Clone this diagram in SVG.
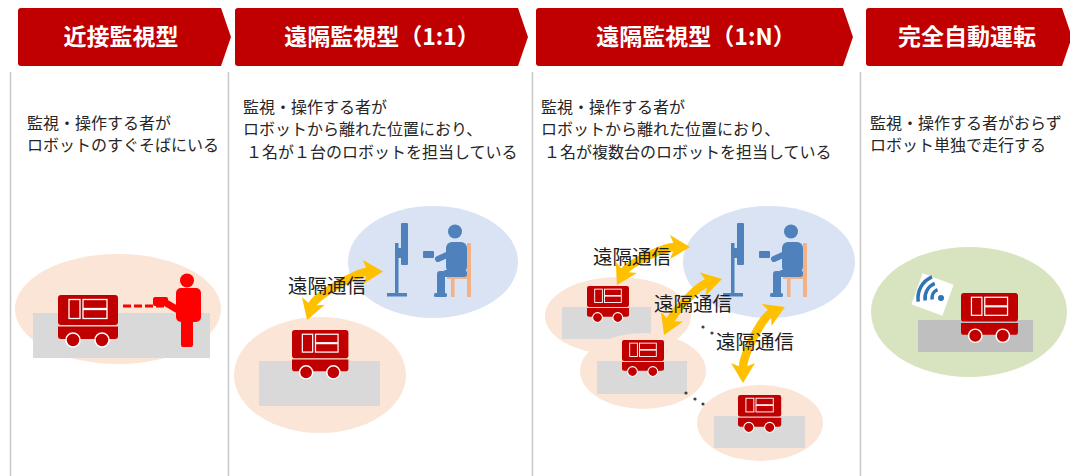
<svg xmlns="http://www.w3.org/2000/svg" width="1070" height="476" viewBox="0 0 1070 476">
<style>
.hdr{fill:#C00000}
.htx{font-family:"Noto Sans CJK JP","Noto Sans",sans-serif;font-weight:700;font-size:23px;fill:#fff;text-anchor:middle}
.desc{font-family:"Noto Sans CJK JP",sans-serif;font-size:16px;fill:#262626}
.div{stroke:#C8C8C8;stroke-width:1.5}
.peach{fill:#FBE5D6}
.sky{fill:#DAE3F3}
.floor{fill:#D9D9D9}
.op{fill:#4F81BD}
.chair{fill:#F4B183}
.lbl{font-family:"Noto Sans CJK JP",sans-serif;font-size:19.5px;fill:#1E1E1E}
.arw{fill:none;stroke:#FFC000;stroke-width:8.5;marker-start:url(#ah);marker-end:url(#ah)}
.dot{fill:#404040}
</style>
<defs>
  <marker id="ah" markerUnits="userSpaceOnUse" viewBox="0 0 22 24" markerWidth="22" markerHeight="24" refX="5" refY="12" orient="auto-start-reverse">
    <path d="M0,0 L20,12 L0,24 L5,12 z" fill="#FFC000"/>
  </marker>
  <!-- delivery robot, 60 wide -->
  <g id="robot">
    <rect x="0" y="0" width="60" height="30" rx="3" fill="#C00000"/>
    <path d="M0,31.5 H60 V41 a3,3 0 0 1 -3,3 H3 a3,3 0 0 1 -3,-3 z" fill="#C00000"/>
    <circle cx="15" cy="45" r="7" fill="#C00000" stroke="#fff" stroke-width="1.5"/>
    <circle cx="44" cy="45" r="7" fill="#C00000" stroke="#fff" stroke-width="1.5"/>
    <g fill="none" stroke="#fff" stroke-width="1.3">
      <rect x="11" y="4.5" width="11" height="19"/>
      <rect x="25" y="4.5" width="24" height="9"/>
      <rect x="25" y="14.5" width="24" height="9"/>
    </g>
  </g>
  <!-- remote operator at a monitor -->
  <g id="operator">
    <rect class="chair" x="467" y="243" width="4" height="54"/>
    <rect class="chair" x="447" y="275" width="23" height="4"/>
    <rect class="chair" x="451" y="278" width="3.5" height="19"/>
    <rect class="op" x="401" y="223" width="7" height="42" rx="1"/>
    <rect class="op" x="395" y="243" width="3.5" height="53"/>
    <rect class="op" x="396" y="248" width="6" height="10"/>
    <rect class="op" x="387" y="293" width="20" height="3.5"/>
    <circle class="op" cx="455" cy="231.5" r="7"/>
    <rect class="op" x="446" y="242" width="21" height="31" rx="6"/>
    <path d="M460,249 L438,259" stroke="#4F81BD" stroke-width="6" stroke-linecap="round"/>
    <rect class="op" x="423" y="251" width="11" height="7" rx="1"/>
    <rect class="op" x="443" y="270" width="24" height="7" rx="3"/>
    <rect class="op" x="437" y="271" width="8" height="25" rx="3"/>
    <rect class="op" x="434" y="293" width="13" height="4" rx="1.5"/>
  </g>
</defs>

<rect width="1070" height="476" fill="#fff"/>

<!-- column dividers -->
<g id="dividers">
  <line class="div" x1="10.5" y1="72" x2="10.5" y2="476"/>
  <line class="div" x1="228.5" y1="72" x2="228.5" y2="476"/>
  <line class="div" x1="532.5" y1="72" x2="532.5" y2="476"/>
  <line class="div" x1="860.5" y1="72" x2="860.5" y2="476"/>
</g>

<!-- headers -->
<g id="hdr-proximity">
  <path class="hdr" d="M21,8 H221 L231,37 L221,66 H21 a3,3 0 0 1 -3,-3 V11 a3,3 0 0 1 3,-3 z"/>
  <text class="htx" x="121" y="45">近接監視型</text>
</g>
<g id="hdr-remote-1to1">
  <path class="hdr" d="M238,8 H518 L528,37 L518,66 H238 a3,3 0 0 1 -3,-3 V11 a3,3 0 0 1 3,-3 z"/>
  <text class="htx" x="382" y="45">遠隔監視型（1:1）</text>
</g>
<g id="hdr-remote-1toN">
  <path class="hdr" d="M539,8 H843 L853,37 L843,66 H539 a3,3 0 0 1 -3,-3 V11 a3,3 0 0 1 3,-3 z"/>
  <text class="htx" x="696" y="45">遠隔監視型（1:N）</text>
</g>
<g id="hdr-autonomous">
  <path class="hdr" d="M869,8 H1062 L1072,37 L1062,66 H869 a3,3 0 0 1 -3,-3 V11 a3,3 0 0 1 3,-3 z"/>
  <text class="htx" x="967" y="45">完全自動運転</text>
</g>

<!-- descriptions -->
<g id="desc-proximity" class="desc">
  <text x="27" y="129">監視・操作する者が</text>
  <text x="27" y="151">ロボットのすぐそばにいる</text>
</g>
<g id="desc-remote-1to1" class="desc">
  <text x="243" y="113">監視・操作する者が</text>
  <text x="243" y="135">ロボットから離れた位置におり、</text>
  <text x="246" y="158">１名が１台のロボットを担当している</text>
</g>
<g id="desc-remote-1toN" class="desc">
  <text x="541" y="113">監視・操作する者が</text>
  <text x="541" y="135">ロボットから離れた位置におり、</text>
  <text x="544" y="158">１名が複数台のロボットを担当している</text>
</g>
<g id="desc-autonomous" class="desc">
  <text x="870" y="129">監視・操作する者がおらず</text>
  <text x="870" y="151">ロボット単独で走行する</text>
</g>

<!-- proximity monitoring scene -->
<g id="scene-proximity">
  <ellipse class="peach" cx="118" cy="309" rx="103" ry="55"/>
  <rect class="floor" x="33" y="313" width="177" height="45"/>
  <use href="#robot" transform="translate(58,295)"/>
  <g id="onsite-operator" fill="#FF0000">
    <circle cx="187" cy="280.5" r="7"/>
    <rect x="176" y="288" width="25" height="34" rx="5"/>
    <rect x="181" y="318" width="12" height="29" rx="2"/>
    <path d="M178,310 L166,303" stroke="#FF0000" stroke-width="7" stroke-linecap="round"/>
    <rect x="153" y="297" width="15" height="9" rx="2"/>
  </g>
</g>

<!-- remote 1:1 scene -->
<g id="scene-remote-1to1">
  <ellipse class="sky" cx="433" cy="262" rx="85" ry="56"/>
  <ellipse class="peach" cx="320" cy="375" rx="86" ry="58"/>
  <rect class="floor" x="259" y="361" width="121" height="45"/>
  <use href="#robot" transform="translate(292,330) scale(0.94)"/>
  <use href="#operator"/>
</g>

<!-- remote 1:N scene -->
<g id="scene-remote-1toN">
  <ellipse class="sky" cx="769" cy="262" rx="86" ry="56"/>
  <use href="#operator" x="336"/>
  <g id="site-a">
    <ellipse class="peach" cx="618" cy="316" rx="73" ry="39"/>
    <rect class="floor" x="562" y="307" width="89" height="32"/>
    <use href="#robot" transform="translate(587,286) scale(0.7)"/>
  </g>
  <g id="site-b">
    <ellipse class="peach" cx="643" cy="371" rx="63" ry="38"/>
    <rect class="floor" x="597" y="361" width="90" height="33"/>
    <use href="#robot" transform="translate(622,340) scale(0.7)"/>
  </g>
  <g id="site-c">
    <ellipse class="peach" cx="760" cy="423" rx="63" ry="38"/>
    <rect class="floor" x="714" y="416" width="91" height="32"/>
    <use href="#robot" transform="translate(738,395) scale(0.72)"/>
  </g>
</g>

<!-- autonomous scene -->
<g id="scene-autonomous">
  <ellipse cx="969" cy="312" rx="98" ry="65" fill="#D8E4BF"/>
  <rect x="918" y="320" width="115" height="32" fill="#BFBFBF"/>
  <use href="#robot" transform="translate(961,293) scale(0.95)"/>
  <g id="wireless-icon">
    <rect x="-16.5" y="-16.5" width="33" height="33" fill="#fff" transform="translate(932.5,294.5) rotate(20)"/>
    <g fill="none" stroke="#2E75B6" stroke-width="3.5">
      <path d="M918.3,301.6 A23,23 0 0 1 932,276.8"/>
      <path d="M925.2,300.5 A16,16 0 0 1 934.7,283.3"/>
      <path d="M932.1,299.4 A9,9 0 0 1 937.5,289.7"/>
    </g>
    <circle cx="941" cy="298" r="3" fill="#2E75B6"/>
  </g>
</g>

<!-- connectors -->
<g id="connectors">
  <path d="M164,306 H123" stroke="#FF0000" stroke-width="3" stroke-dasharray="8 3" fill="none"/>
  <path class="arw" d="M311.8,305.8 C315,296 358,272 368,271.8"/>
  <path class="arw" d="M624,271.8 C628.7,263 665,247 675,247"/>
  <path class="arw" d="M670,321.2 C674,312 697.8,285.3 707.5,282.8"/>
  <path class="arw" d="M743,368 C743,355 762,317 771.2,313"/>
  <circle class="dot" cx="703" cy="327" r="1.6"/>
  <circle class="dot" cx="712" cy="333" r="1.6"/>
  <circle class="dot" cx="686" cy="393" r="1.6"/>
  <circle class="dot" cx="695" cy="399" r="1.6"/>
  <circle class="dot" cx="703" cy="404" r="1.6"/>
  <text class="lbl" x="288" y="293">遠隔通信</text>
  <text class="lbl" x="593" y="264">遠隔通信</text>
  <text class="lbl" x="654" y="311">遠隔通信</text>
  <text class="lbl" x="716" y="349">遠隔通信</text>
</g>
</svg>
